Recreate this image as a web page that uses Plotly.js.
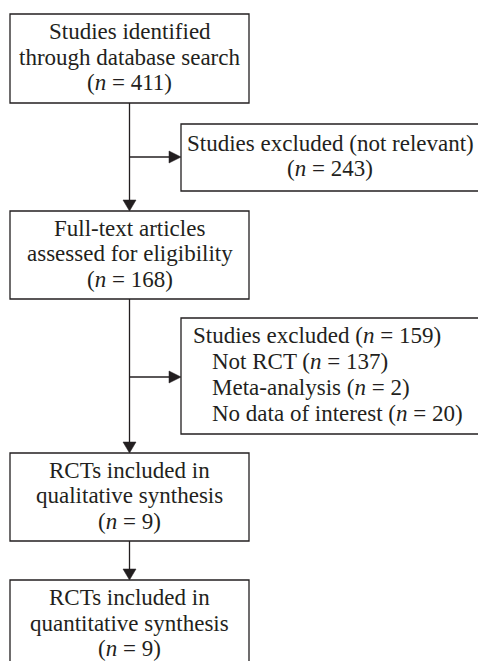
<!DOCTYPE html>
<html>
<head>
<meta charset="utf-8">
<script src="https://cdn.plot.ly/plotly-3.0.1.min.js"></script>
<style>html,body{margin:0;padding:0;background:#fff;}#chart{width:478px;height:661px;}</style>
</head>
<body>
<div id="chart"></div>
<script>
// ---- data ----
const stageLines = [
  ["Studies identified", "through database search"],
  ["Full-text articles", "assessed for eligibility"],
  ["RCTs included in", "qualitative synthesis"],
  ["RCTs included in", "quantitative synthesis"]
];
const stageCounts = [411, 168, 9, 9];
const firstExclusionLabel = "Studies excluded (not relevant)";
const firstExclusionCount = 243;
const secondExclusionLabel = "Studies excluded";
const secondExclusionCount = 159;
const reasonLabels = ["Not RCT", "Meta-analysis", "No data of interest"];
const reasonCounts = [137, 2, 20];

// ---- layout geometry (styles/positions) ----
const W = 478, H = 661;
const INK = "#231f20";
const FONT = "Liberation Serif, Times New Roman, serif";
const FS = 23;
const GAP = 25.5;
const BASE_SHIFT = 0.3375 * FS; // baseline offset from text middle
const colX = [10, 249];
const colMid = (colX[0] + colX[1]) / 2;
const sideX = [181, 481];
const sideTextMid = 330;
const stageY = [[14, 103], [211, 299], [453, 541], [580, 669]];
const sideY = [[124, 191], [318, 434]];
const branchY = [157, 377];

const nTxt = v => "(<i>n</i> = " + v + ")";

const shapes = [];
const annotations = [];
const lineStyle = {color: INK, width: 1.3};

function rect(x0, x1, y0, y1) {
  shapes.push({type: "rect", xref: "x", yref: "y", x0, x1, y0, y1, line: lineStyle, fillcolor: "rgba(0,0,0,0)"});
}
function seg(x0, y0, x1, y1) {
  shapes.push({type: "line", xref: "x", yref: "y", x0, y0, x1, y1, line: lineStyle});
}
function headDown(x, y) {
  shapes.push({type: "path", xref: "x", yref: "y",
    path: `M ${x - 6.5},${y - 11} L ${x + 6.5},${y - 11} L ${x},${y} Z`,
    fillcolor: INK, line: {color: INK, width: 0.5}});
}
function headRight(x, y) {
  shapes.push({type: "path", xref: "x", yref: "y",
    path: `M ${x - 12},${y - 6} L ${x - 12},${y + 6} L ${x},${y} Z`,
    fillcolor: INK, line: {color: INK, width: 0.5}});
}
function text(str, x, baseline, anchor) {
  annotations.push({text: str, x, y: baseline - BASE_SHIFT, xref: "x", yref: "y",
    xanchor: anchor || "center", yanchor: "middle", showarrow: false,
    borderpad: 0, borderwidth: 0,
    font: {family: FONT, size: FS, color: INK}});
}
function centeredBlock(lines, cx, y0, y1) {
  const c = (y0 + y1) / 2 + 6.5;
  const n = lines.length;
  lines.forEach((s, i) => text(s, cx, c + (i - (n - 1) / 2) * GAP));
}

// main column boxes
stageLines.forEach((lines, i) => {
  const [y0, y1] = stageY[i];
  rect(colX[0], colX[1], y0, y1);
  centeredBlock(lines.concat([nTxt(stageCounts[i])]), colMid, y0, y1);
});

// main vertical connectors
for (let i = 0; i < stageY.length - 1; i++) {
  seg(colMid, stageY[i][1], colMid, stageY[i + 1][0] - 10);
  headDown(colMid, stageY[i + 1][0]);
}

// side box 1
rect(sideX[0], sideX[1], sideY[0][0], sideY[0][1]);
centeredBlock([firstExclusionLabel, nTxt(firstExclusionCount)], sideTextMid, sideY[0][0], sideY[0][1]);

// side box 2
rect(sideX[0], sideX[1], sideY[1][0], sideY[1][1]);
{
  const rows = [secondExclusionLabel + " " + nTxt(secondExclusionCount)]
    .concat(reasonLabels.map((r, i) => r + " " + nTxt(reasonCounts[i])));
  const c = (sideY[1][0] + sideY[1][1]) / 2 + 6;
  rows.forEach((s, i) => text(s, i === 0 ? 193 : 212, c + (i - 1.5) * 26, "left"));
}

// branches
branchY.forEach((y, i) => {
  seg(colMid, y, sideX[0] - 11, y);
  headRight(sideX[0], y);
});

const layout = {
  width: W, height: H,
  margin: {l: 0, r: 0, t: 0, b: 0, pad: 0},
  paper_bgcolor: "#ffffff", plot_bgcolor: "#ffffff",
  xaxis: {range: [0, W], visible: false, fixedrange: true},
  yaxis: {range: [H, 0], visible: false, fixedrange: true},
  showlegend: false,
  shapes, annotations
};

Plotly.newPlot("chart", [{x: [], y: [], type: "scatter", hoverinfo: "skip"}], layout, {staticPlot: true, displayModeBar: false});
</script>
</body>
</html>
